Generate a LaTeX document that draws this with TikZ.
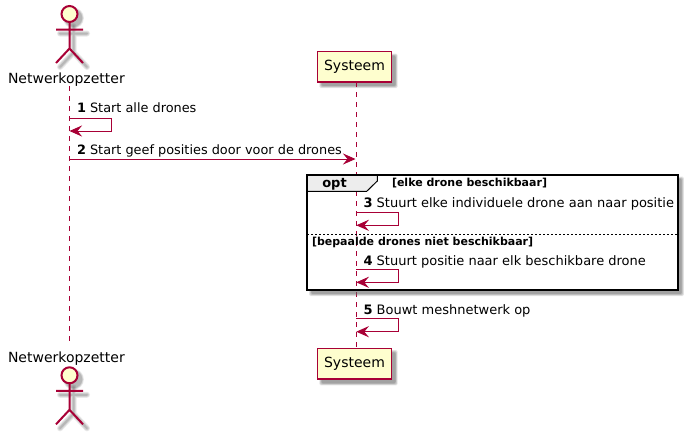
\documentclass[tikz,border=0pt]{standalone}
\usepackage{fontspec}
\setmainfont{DejaVu Sans}
\usetikzlibrary{arrows.meta,calc}
\definecolor{umlline}{HTML}{A80036}
\definecolor{umlfill}{HTML}{FEFECE}
\definecolor{umlshadow}{HTML}{666666}
\newcommand{\softbox}[4]{%
  \foreach \g/\o in {3/0.16,2/0.18,1/0.22,0/0.26}{
    \fill[umlshadow,opacity=\o,rounded corners=1pt]
      ($(#1+4-\g*0.7,#2+4-\g*0.7)$) rectangle ($(#3+4+\g*0.7,#4+4+\g*0.7)$);
  }}
\newcommand{\actorfig}[2]{% x, head centre y
  \begin{scope}[shift={(#1+4,#2+4)}]
    \foreach \w/\o in {6/0.14,4/0.18,2/0.24}{
      \draw[umlshadow,opacity=\o,line width=\w*0.75pt,line cap=round]
        (0,8) -- (0,34.5) (-13.5,15.5) -- (13.5,15.5)
        (-13.5,49) -- (0,34.5) -- (13.5,49);
      \fill[umlshadow,opacity=\o] (0,0) circle[radius=8+\w*0.4];
    }
  \end{scope}
  \begin{scope}[shift={(#1,#2)}]
    \draw[actorline] (0,8) -- (0,34.5) (-13.5,15.5) -- (13.5,15.5)
      (-13.5,49) -- (0,34.5) -- (13.5,49);
    \draw[actorline,fill=umlfill] (0,0) circle[radius=8];
  \end{scope}}
\tikzset{
  x=0.75pt,y=-0.75pt,
  actorline/.style={draw=umlline,line width=1.5pt},
  lifeline/.style={draw=umlline,line width=0.75pt,dash pattern=on 3.75pt off 3.75pt},
  msg/.style={draw=umlline,line width=0.75pt,-{Stealth[length=9.5pt,width=8.4pt,inset=3.5pt,fill=umlline]}},
  txt/.style={anchor=base west,inner sep=0pt,outer sep=0pt,text=black,font=\fontsize{9.75pt}{11pt}\selectfont},
  txtb/.style={anchor=base west,inner sep=0pt,outer sep=0pt,text=black,font=\fontsize{9.65pt}{11pt}\selectfont},
  nametxt/.style={anchor=base west,inner sep=0pt,outer sep=0pt,text=black,font=\fontsize{10.5pt}{12pt}\selectfont},
  guard/.style={anchor=base west,inner sep=0pt,outer sep=0pt,text=black,font=\fontsize{8.25pt}{10pt}\selectfont\bfseries},
  partbox/.style={draw=umlline,fill=umlfill,line width=1.125pt,minimum width=55.5pt,minimum height=22.8pt,inner sep=0pt,font=\fontsize{10.5pt}{12pt}\selectfont},
}
\begin{document}
\begin{tikzpicture}
\useasboundingbox (0,0) rectangle (688,436);
\fill[white] (0,0) rectangle (688,436);
\coordinate (atop) at (69.5,86);
\coordinate (abot) at (69.5,346);
% participants
\softbox{317.5}{51.7}{391.5}{82}
\softbox{317.5}{348.3}{391.5}{379.3}
\node[partbox] (stop) at (354.5,66.8) {Systeem};
\node[partbox] (sbot) at (354.5,363.8) {Systeem};
\coordinate (stopl) at (356.3,82);
\coordinate (sbotl) at (356.3,348.3);
% lifelines
\draw[lifeline] (atop) -- (abot);
\draw[lifeline] (stopl) -- (sbotl);
% actors
\actorfig{69.5}{14}
\actorfig{69.5}{375.3}
\node[nametxt] (atxt) at (8,83) {Netwerkopzetter};
\node[nametxt] (btxt) at (8,362) {Netwerkopzetter};
% frame
\softbox{307.3}{174.7}{677.7}{290}
\fill[white] (307.3,174.7) rectangle (677.7,290);
\draw[lifeline] (356.3,191) -- (356.3,290);
\coordinate (fa) at (307.3,174.7);
\coordinate (fb) at (677.7,290);
\draw[black,line width=0.75pt,fill=black!7] (307.3,174.7) -- (377.3,174.7) -- (377.3,181) -- (366.7,191.3) -- (307.3,191.3) -- cycle;
\draw[black,line width=1.5pt] (fa) rectangle (fb);
\coordinate (dl) at (307.3,234.3);
\coordinate (dr) at (677.7,234.3);
\draw[black,line width=0.75pt,dash pattern=on 1.5pt off 1.5pt] (dl) -- (dr);
\node[anchor=base west,inner sep=0pt,font=\fontsize{9.75pt}{11pt}\selectfont\bfseries] (opt) at (322,187.7) {opt};
\node[guard] (g1) at (392,186.7) {[elke drone beschikbaar]};
\node[guard] (g2) at (312,245) {[bepaalde drones niet beschikbaar]};
% messages
\coordinate (m1a) at (69.5,118.3); \coordinate (m1b) at (111.5,118.3);
\coordinate (m1c) at (111.5,131); \coordinate (m1d) at (69.5,131);
\draw[msg] (m1a) -- (m1b) -- (m1c) -- (m1d);
\node[txtb] (t1) at (77,112) {\textbf{1} Start alle drones};
\coordinate (m2a) at (69.5,159); \coordinate (m2b) at (355.5,159);
\draw[msg] (m2a) -- (m2b);
\node[txtb] (t2) at (77,154) {\textbf{2} Start geef posities door voor de drones};
\coordinate (m3a) at (356.3,212.3); \coordinate (m3b) at (398.7,212.3);
\coordinate (m3c) at (398.7,225.3); \coordinate (m3d) at (356.3,225.3);
\draw[msg] (m3a) -- (m3b) -- (m3c) -- (m3d);
\node[txt] (t3) at (363.5,207.7) {\textbf{3} Stuurt elke individuele drone aan naar positie};
\coordinate (m4a) at (356.3,269.3); \coordinate (m4b) at (398.7,269.3);
\coordinate (m4c) at (398.7,282.3); \coordinate (m4d) at (356.3,282.3);
\draw[msg] (m4a) -- (m4b) -- (m4c) -- (m4d);
\node[txt] (t4) at (363.5,265) {\textbf{4} Stuurt positie naar elk beschikbare drone};
\coordinate (m5a) at (356.3,318.7); \coordinate (m5b) at (398.7,318.7);
\coordinate (m5c) at (398.7,331.7); \coordinate (m5d) at (356.3,331.7);
\draw[msg] (m5a) -- (m5b) -- (m5c) -- (m5d);
\node[txt] (t5) at (363.5,314) {\textbf{5} Bouwt meshnetwerk op};
\end{tikzpicture}
\end{document}
